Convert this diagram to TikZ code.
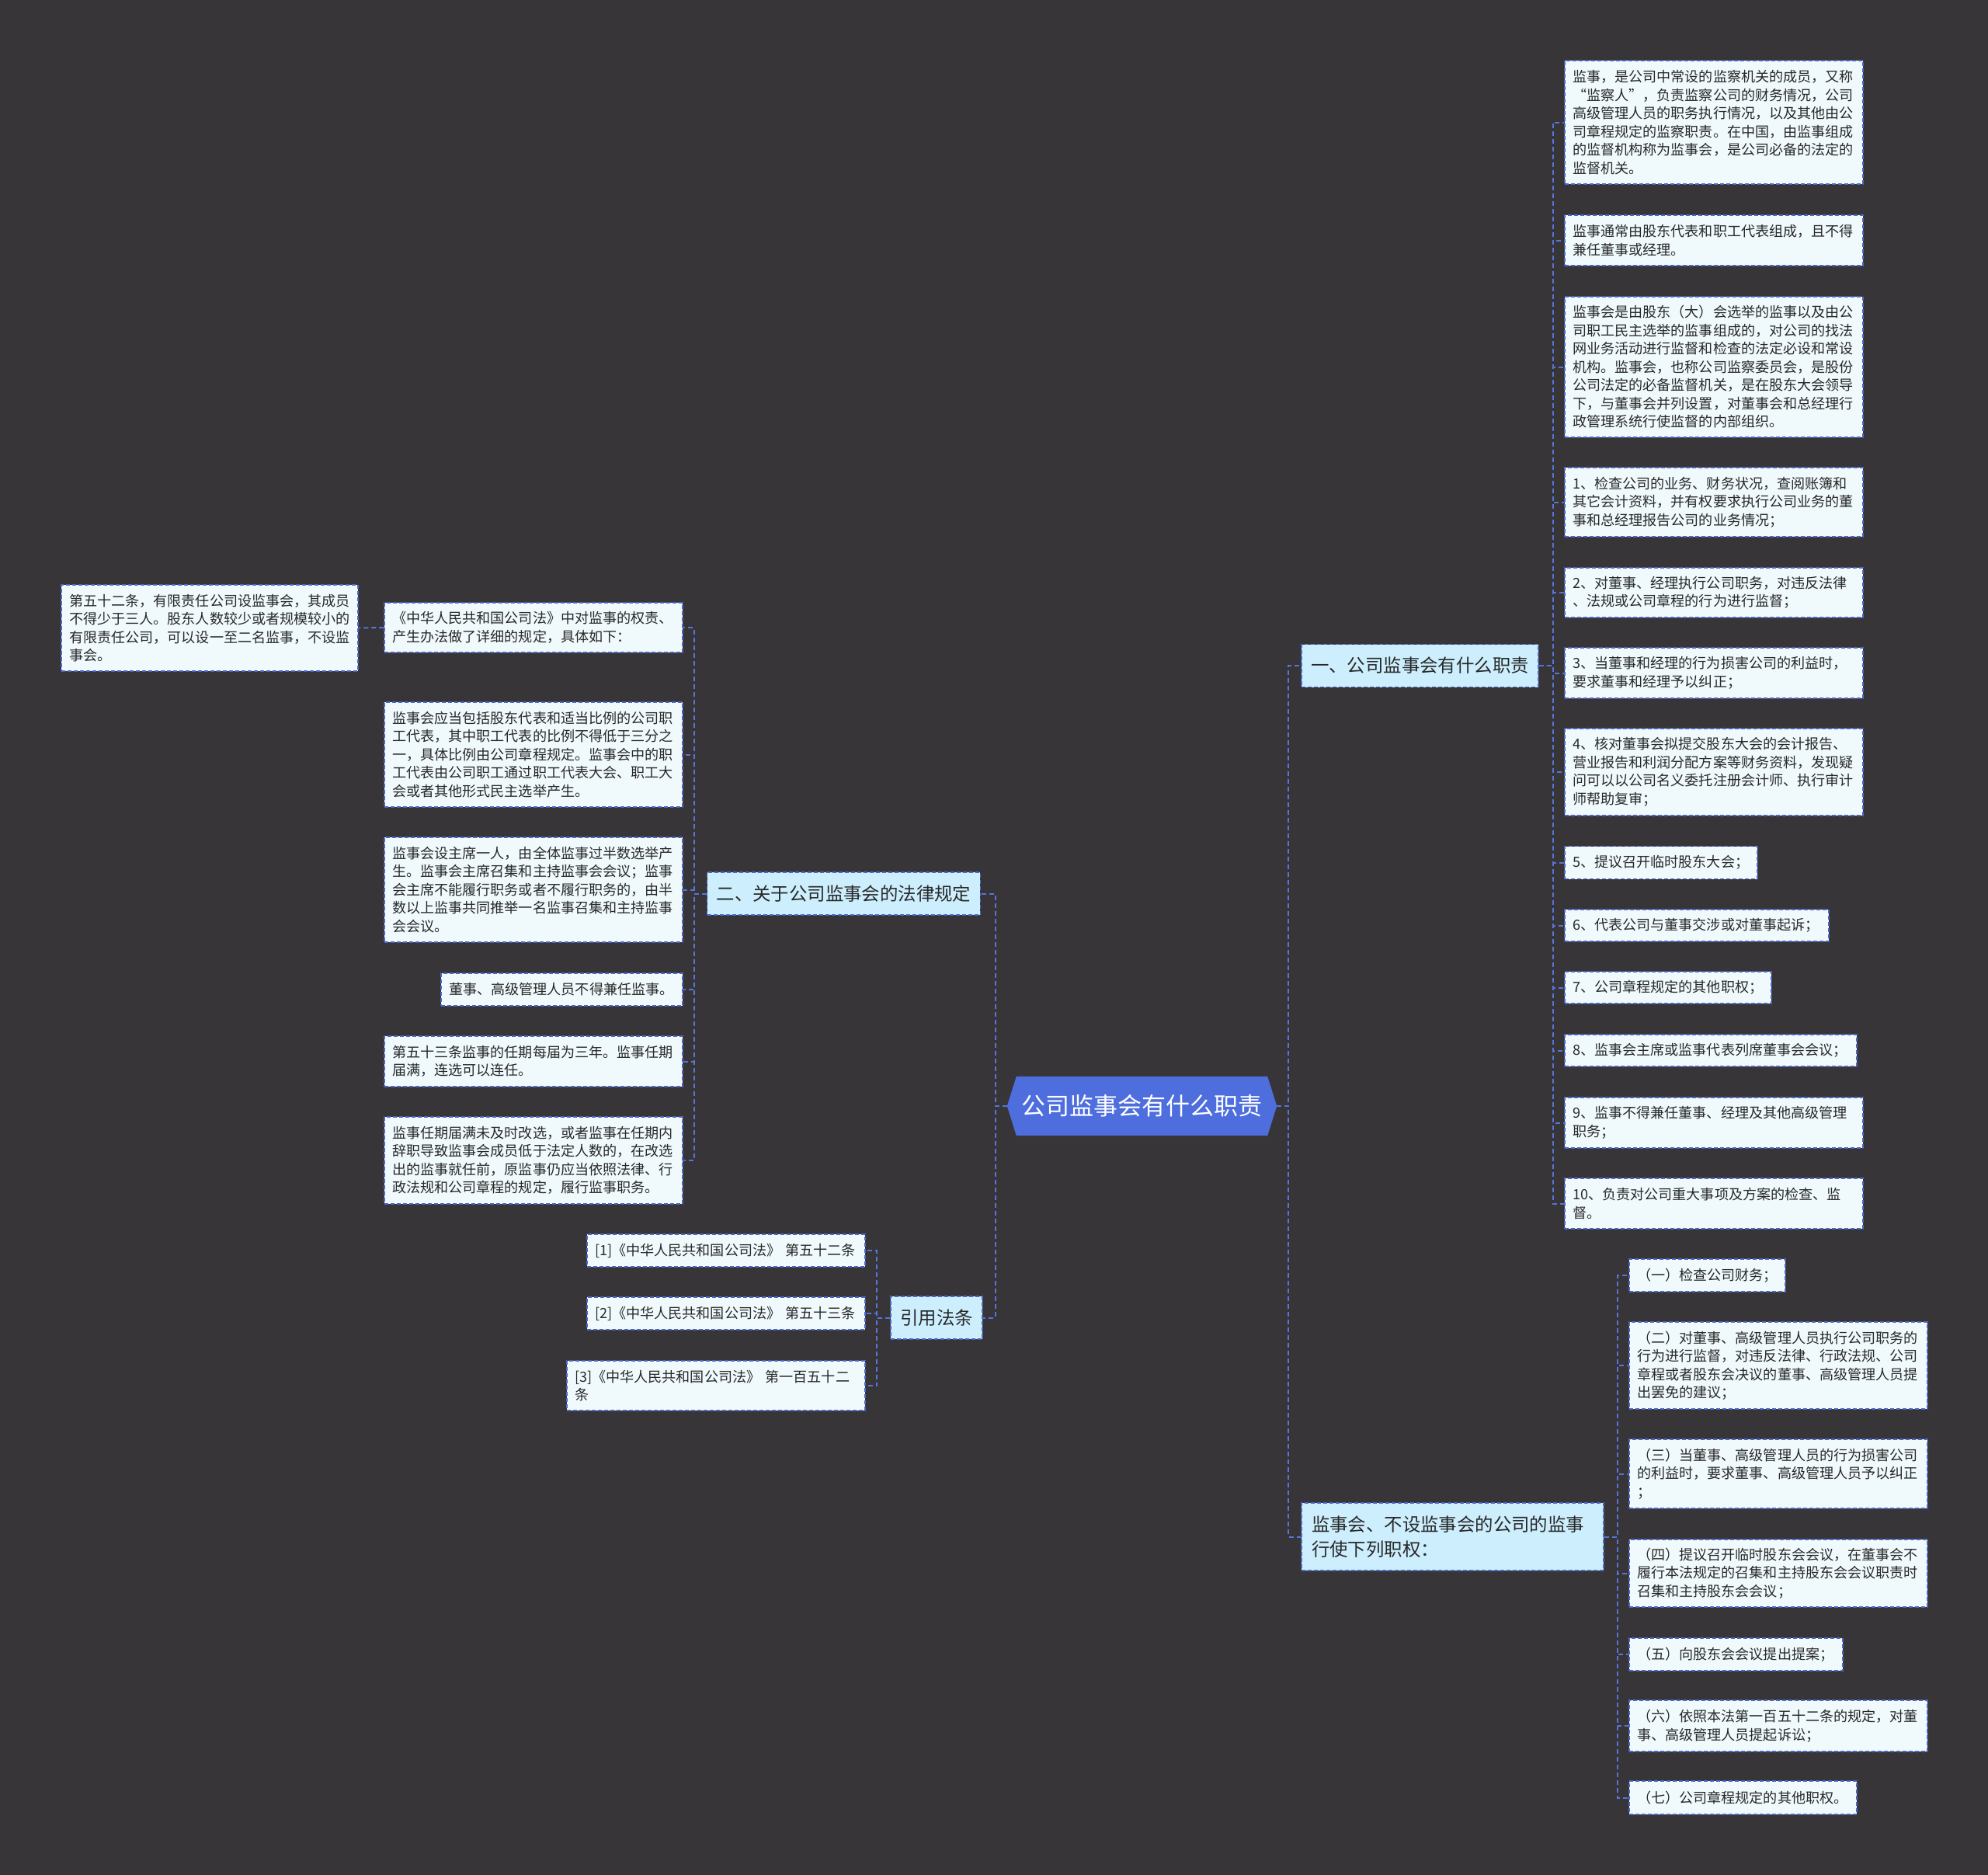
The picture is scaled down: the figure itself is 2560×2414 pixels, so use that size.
\documentclass[tikz,border=0pt]{standalone}
\usepackage{fontspec}
\newfontfamily\cjk{Noto Sans CJK SC}
\usetikzlibrary{backgrounds}
\definecolor{bg}{RGB}{55,53,55}
\definecolor{leaffill}{RGB}{240,250,253}
\definecolor{midfill}{RGB}{204,238,253}
\definecolor{rootfill}{RGB}{78,110,222}
\definecolor{edgecol}{RGB}{76,102,200}
\definecolor{conncol}{RGB}{88,116,216}
\definecolor{ink}{RGB}{40,40,40}
\tikzset{
  box/.style={draw=edgecol, line width=1.5pt, dash pattern=on 5pt off 3pt, text=ink, align=left, inner ysep=0pt},
  leaf/.style={box, fill=leaffill, inner xsep=10pt, font=\cjk\fontsize{18.1pt}{23.5pt}\selectfont},
  mid/.style={box, fill=midfill, inner xsep=12pt, font=\cjk\fontsize{23.4pt}{31.7pt}\selectfont, minimum height=55pt},
  rootnode/.style={text=white, inner sep=0pt, font=\cjk\fontsize{31pt}{36pt}\selectfont, minimum width=323pt, minimum height=76pt},
  conn/.style={draw=conncol, line width=2pt, dash pattern=on 6pt off 4pt},
  wfull/.style={minimum width=384pt, text width=364pt},
}
\begin{document}
\begin{tikzpicture}[x=1pt,y=-1pt]
\useasboundingbox (0,0) rectangle (2560,2414);

% root
\node[rootnode] (root) at (1470.5,1424) {公司监事会有什么职责};

% level 1
\node[mid] (one) at (1828.5,857) {一、公司监事会有什么职责};
\node[mid, minimum width=389pt, text width=363pt, inner xsep=13pt, minimum height=87pt] (three) at (1870.5,1978.5) {监事会、不设监事会的公司的监事\\行使下列职权：};
\node[mid] (two) at (1086.5,1150.5) {二、关于公司监事会的法律规定};
\node[mid] (cite) at (1206,1696.5) {引用法条};

% right leaves (one)
\node[leaf, wfull, minimum height=159pt] (r1) at (2207,157.5) {监事，是公司中常设的监察机关的成员，又称\\“监察人”，负责监察公司的财务情况，公司\\高级管理人员的职务执行情况，以及其他由公\\司章程规定的监察职责。在中国，由监事组成\\的监督机构称为监事会，是公司必备的法定的\\监督机关。};
\node[leaf, wfull, minimum height=65pt] (r2) at (2207,309.5) {监事通常由股东代表和职工代表组成，且不得\\兼任董事或经理。};
\node[leaf, wfull, minimum height=181pt] (r3) at (2207,472.5) {监事会是由股东（大）会选举的监事以及由公\\司职工民主选举的监事组成的，对公司的找法\\网业务活动进行监督和检查的法定必设和常设\\机构。监事会，也称公司监察委员会，是股份\\公司法定的必备监督机关，是在股东大会领导\\下，与董事会并列设置，对董事会和总经理行\\政管理系统行使监督的内部组织。};
\node[leaf, wfull, minimum height=89pt] (r4) at (2207,646.5) {1、检查公司的业务、财务状况，查阅账簿和\\其它会计资料，并有权要求执行公司业务的董\\事和总经理报告公司的业务情况；};
\node[leaf, wfull, minimum height=64pt] (r5) at (2207,763) {2、对董事、经理执行公司职务，对违反法律\\、法规或公司章程的行为进行监督；};
\node[leaf, wfull, minimum height=65pt] (r6) at (2207,866.5) {3、当董事和经理的行为损害公司的利益时，\\要求董事和经理予以纠正；};
\node[leaf, wfull, minimum height=112pt] (r7) at (2207,994) {4、核对董事会拟提交股东大会的会计报告、\\营业报告和利润分配方案等财务资料，发现疑\\问可以以公司名义委托注册会计师、执行审计\\师帮助复审；};
\node[leaf, minimum width=248pt, text width=228pt, minimum height=42pt] (r8) at (2139,1110.5) {5、提议召开临时股东大会；};
\node[leaf, minimum width=340pt, text width=320pt, minimum height=41pt] (r9) at (2185,1191.5) {6、代表公司与董事交涉或对董事起诉；};
\node[leaf, minimum width=266pt, text width=246pt, minimum height=41pt] (r10) at (2148,1271.5) {7、公司章程规定的其他职权；};
\node[leaf, minimum width=376pt, text width=356pt, minimum height=41pt] (r11) at (2203,1352.5) {8、监事会主席或监事代表列席董事会会议；};
\node[leaf, wfull, minimum height=65pt] (r12) at (2207,1445.5) {9、监事不得兼任董事、经理及其他高级管理\\职务；};
\node[leaf, wfull, minimum height=65pt] (r13) at (2207,1549.5) {10、负责对公司重大事项及方案的检查、监\\督。};

% bottom right leaves (three)
\node[leaf, minimum width=201pt, text width=181pt, minimum height=42pt] (b1) at (2198.5,1642) {（一）检查公司财务；};
\node[leaf, wfull, minimum height=112pt] (b2) at (2290,1758) {（二）对董事、高级管理人员执行公司职务的\\行为进行监督，对违反法律、行政法规、公司\\章程或者股东会决议的董事、高级管理人员提\\出罢免的建议；};
\node[leaf, wfull, minimum height=89pt] (b3) at (2290,1897.5) {（三）当董事、高级管理人员的行为损害公司\\的利益时，要求董事、高级管理人员予以纠正\\；};
\node[leaf, wfull, minimum height=87pt] (b4) at (2290,2025.5) {（四）提议召开临时股东会会议，在董事会不\\履行本法规定的召集和主持股东会会议职责时\\召集和主持股东会会议；};
\node[leaf, minimum width=275pt, text width=255pt, minimum height=42pt] (b5) at (2235.5,2130) {（五）向股东会会议提出提案；};
\node[leaf, wfull, minimum height=66pt] (b6) at (2290,2222) {（六）依照本法第一百五十二条的规定，对董\\事、高级管理人员提起诉讼；};
\node[leaf, minimum width=293pt, text width=273pt, minimum height=43pt] (b7) at (2244.5,2314.5) {（七）公司章程规定的其他职权。};

% left leaves (two)
\node[leaf, wfull, minimum height=64pt] (l1) at (687,808) {《中华人民共和国公司法》中对监事的权责、\\产生办法做了详细的规定，具体如下：};
\node[leaf, minimum width=382pt, text width=362pt, minimum height=111pt] (l1a) at (270,808.5) {第五十二条，有限责任公司设监事会，其成员\\不得少于三人。股东人数较少或者规模较小的\\有限责任公司，可以设一至二名监事，不设监\\事会。};
\node[leaf, wfull, minimum height=135pt] (l2) at (687,971.5) {监事会应当包括股东代表和适当比例的公司职\\工代表，其中职工代表的比例不得低于三分之\\一，具体比例由公司章程规定。监事会中的职\\工代表由公司职工通过职工代表大会、职工大\\会或者其他形式民主选举产生。};
\node[leaf, wfull, minimum height=135pt] (l3) at (687,1145.5) {监事会设主席一人，由全体监事过半数选举产\\生。监事会主席召集和主持监事会会议；监事\\会主席不能履行职务或者不履行职务的，由半\\数以上监事共同推举一名监事召集和主持监事\\会会议。};
\node[leaf, minimum width=311pt, text width=291pt, minimum height=42pt] (l4) at (723.5,1274) {董事、高级管理人员不得兼任监事。};
\node[leaf, wfull, minimum height=65pt] (l5) at (687,1366.5) {第五十三条监事的任期每届为三年。监事任期\\届满，连选可以连任。};
\node[leaf, wfull, minimum height=112pt] (l6) at (687,1494) {监事任期届满未及时改选，或者监事在任期内\\辞职导致监事会成员低于法定人数的，在改选\\出的监事就任前，原监事仍应当依照法律、行\\政法规和公司章程的规定，履行监事职务。};

% citations
\node[leaf, minimum width=358pt, text width=338pt, minimum height=42pt] (c1) at (935,1610) {[1]《中华人民共和国公司法》~第五十二条};
\node[leaf, minimum width=358pt, text width=338pt, minimum height=42pt] (c2) at (935,1691) {[2]《中华人民共和国公司法》~第五十三条};
\node[leaf, wfull, minimum height=64pt] (c3) at (922,1784) {[3]《中华人民共和国公司法》~第一百五十二\\条};

% background and root shape
\begin{scope}[on background layer]
  \fill[bg] (0,0) rectangle (2560,2414);
  \fill[rootfill] ([xshift=-12pt]root.west) -- (root.north west) -- (root.north east)
     -- ([xshift=12pt]root.east) -- (root.south east) -- (root.south west) -- cycle;
\end{scope}

\coordinate (rootL) at ([xshift=-12pt]root.west);
\coordinate (rootR) at ([xshift=12pt]root.east);

% connectors
\foreach \t in {two,cite}
  \draw[conn] (rootL) -- ++(-15,0) |- (\t.east);
\foreach \t in {one,three}
  \draw[conn] (rootR) -- ++(15,0) |- (\t.west);
\foreach \t in {r1,r2,r3,r4,r5,r6,r7,r8,r9,r10,r11,r12,r13}
  \draw[conn] (one.east) -- ++(18,0) |- (\t.west);
\foreach \t in {b1,b2,b3,b4,b5,b6,b7}
  \draw[conn] (three.east) -- ++(17,0) |- (\t.west);
\foreach \t in {l1,l2,l3,l4,l5,l6}
  \draw[conn] (two.west) -- ++(-16,0) |- (\t.east);
\foreach \t in {c1,c2,c3}
  \draw[conn] (cite.west) -- ++(-17,0) |- (\t.east);
\draw[conn] (l1.west) -- (l1a.east);
\end{tikzpicture}
\end{document}
